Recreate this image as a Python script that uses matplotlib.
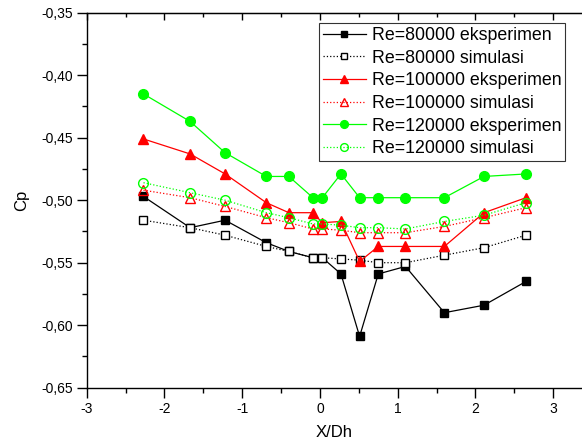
import matplotlib
matplotlib.use("Agg")
import matplotlib.pyplot as plt
from matplotlib.ticker import MultipleLocator, FuncFormatter

plt.rcParams['font.family'] = ['Liberation Sans', 'DejaVu Sans']

# X/Dh positions of the pressure taps
x_pos = [-2.27, -1.67, -1.22, -0.69, -0.40, -0.09, 0.03, 0.27, 0.51, 0.75, 1.10, 1.60, 2.11, 2.65]

cp_80k_exp = [-0.497, -0.522, -0.516, -0.534, -0.541, -0.546, -0.546, -0.559, -0.609, -0.559, -0.553, -0.590, -0.584, -0.565]
cp_80k_sim = [-0.516, -0.522, -0.528, -0.537, -0.541, -0.546, -0.546, -0.547, -0.548, -0.550, -0.550, -0.544, -0.538, -0.528]
cp_100k_exp = [-0.451, -0.463, -0.479, -0.502, -0.510, -0.510, -0.518, -0.517, -0.549, -0.537, -0.537, -0.537, -0.510, -0.498]
cp_100k_sim = [-0.492, -0.498, -0.505, -0.514, -0.518, -0.523, -0.523, -0.524, -0.526, -0.526, -0.526, -0.521, -0.514, -0.506]
cp_120k_exp = [-0.415, -0.437, -0.462, -0.481, -0.481, -0.498, -0.498, -0.479, -0.498, -0.498, -0.498, -0.498, -0.481, -0.479]
cp_120k_sim = [-0.486, -0.494, -0.500, -0.510, -0.514, -0.519, -0.519, -0.520, -0.522, -0.522, -0.523, -0.517, -0.512, -0.502]

labels = ["Re=80000 eksperimen", "Re=80000 simulasi",
          "Re=100000 eksperimen", "Re=100000 simulasi",
          "Re=120000 eksperimen", "Re=120000 simulasi"]

green = '#00ff00'

fig = plt.figure(figsize=(5.82, 4.44), dpi=100)
ax = fig.add_axes([86.7 / 582, 56.3 / 444, (582 - 86.7) / 582, 375 / 444])

lw = 0.9
ax.plot(x_pos, cp_80k_exp, '-', color='black', lw=lw, marker='s', ms=5.5, mfc='black', mec='black', label=labels[0])
ax.plot(x_pos, cp_80k_sim, ':', color='black', lw=lw, marker='s', ms=5.5, mfc='white', mec='black', label=labels[1])
ax.plot(x_pos, cp_100k_exp, '-', color='red', lw=lw, marker='^', ms=7, mfc='red', mec='red', label=labels[2])
ax.plot(x_pos, cp_100k_sim, ':', color='red', lw=lw, marker='^', ms=7, mfc='none', mec='red', label=labels[3])
ax.plot(x_pos, cp_120k_exp, '-', color=green, lw=lw, marker='o', ms=7, mfc=green, mec=green, label=labels[4])
ax.plot(x_pos, cp_120k_sim, ':', color=green, lw=lw, marker='o', ms=7, mfc='none', mec=green, label=labels[5])

ax.set_xlim(-3, 3.37)
ax.set_ylim(-0.65, -0.35)
ax.xaxis.set_major_locator(MultipleLocator(1))
ax.xaxis.set_minor_locator(MultipleLocator(0.5))
ax.yaxis.set_major_locator(MultipleLocator(0.05))
ax.yaxis.set_minor_locator(MultipleLocator(0.025))
ax.yaxis.set_major_formatter(FuncFormatter(lambda v, p: ('%.2f' % v).replace('.', ',')))
ax.xaxis.set_major_formatter(FuncFormatter(lambda v, p: '%d' % round(v)))

ax.spines['right'].set_visible(False)
for s in ['left', 'bottom', 'top']:
    ax.spines[s].set_linewidth(1.0)
ax.tick_params(which='major', direction='out', length=7, width=1, labelsize=10, pad=3)
ax.tick_params(which='minor', direction='out', length=3.5, width=1)

top = ax.secondary_xaxis('top')
top.xaxis.set_major_locator(MultipleLocator(1))
top.xaxis.set_minor_locator(MultipleLocator(0.5))
top.tick_params(which='major', direction='in', length=5, width=1, labeltop=False)
top.tick_params(which='minor', direction='in', length=3, width=1)

ax.set_xlabel('X/Dh', fontsize=12, labelpad=7)
ax.set_ylabel('Cp', fontsize=12, labelpad=9)

leg = ax.legend(loc='upper left', bbox_to_anchor=((319 - 86.7) / 495.3, (387.7 - 23) / 375),
                fontsize=12.8, frameon=True, fancybox=False, edgecolor='black',
                handlelength=2.4, handletextpad=0.35, labelspacing=0.32, borderpad=0.22,
                borderaxespad=0, markerscale=0.8)
leg.get_frame().set_linewidth(0.8)

fig.savefig('out.png', dpi=100)
